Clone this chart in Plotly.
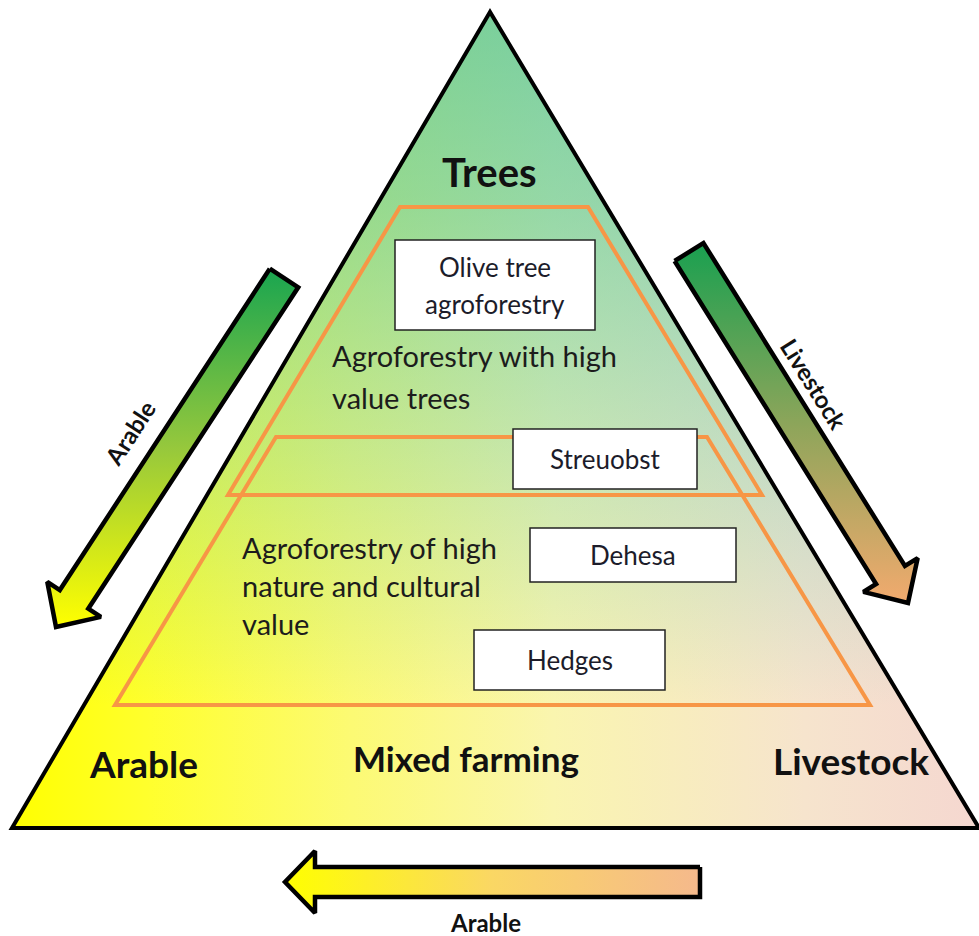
import math
import plotly.graph_objects as go

W, H = 979, 936
FONT = "Lato"

# ---- diagram geometry (pixel space, y grows downward) ----
triangle = [(490, 12), (12, 828), (979, 828)]
upper_trap = [(400, 207), (588, 207), (762, 495), (228, 495)]
lower_trap = [(276, 437), (707, 437), (870, 705), (115, 705)]

box_rects = [(395, 240, 595, 330), (513, 429, 697, 489), (530, 528, 736, 582), (474, 630, 665, 690)]
box_lines = [["Olive tree", "agroforestry"], ["Streuobst"], ["Dehesa"], ["Hedges"]]

corner_labels = ["Trees", "Arable", "Mixed farming", "Livestock"]
corner_pos = [(489, 172), (143, 763), (466, 758), (851, 760)]
corner_sizes = [40, 37, 35, 37]

group_texts = [["Agroforestry with high", "value trees"],
               ["Agroforestry of high", "nature and cultural", "value"]]
group_pos = [(330, 355), (240, 547)]
group_step = [42, 38]

arrow_labels = ["Arable", "Livestock", "Arable"]
arrow_label_pos = [(129, 433), (814, 383), (485, 922)]
arrow_label_angle = [-57, 58, 0]

arrow_start = [(284, 278), (689, 252), (700, 882)]
arrow_tip = [(56, 627), (908, 603), (285, 882)]
arrow_colors = [
    [[0, "rgb(25,165,80)"], [0.5, "rgb(150,200,60)"], [1, "rgb(255,255,0)"]],
    [[0, "rgb(25,160,80)"], [0.5, "rgb(140,165,90)"], [1, "rgb(242,170,110)"]],
    [[0, "rgb(255,255,0)"], [0.5, "rgb(250,215,100)"], [1, "rgb(245,185,140)"]],
]
arrow_dir = ["vertical", "vertical", "horizontal"]

tri_base_scale = [[0, "rgb(255,255,0)"], [0.14, "rgb(255,255,45)"], [0.35, "rgb(252,250,115)"],
                  [0.56, "rgb(250,245,175)"], [0.82, "rgb(246,228,205)"], [1, "rgb(245,215,208)"]]
tri_over_scale = [[0, "rgba(50,185,155,0.64)"], [0.23, "rgba(55,188,160,0.52)"],
                  [0.54, "rgba(60,190,185,0.27)"], [0.85, "rgba(60,190,185,0.0)"], [1, "rgba(60,190,185,0.0)"]]


def arrow_polygon(s, t, w=17, hw=32, hl=33):
    dx, dy = t[0] - s[0], t[1] - s[1]
    L = math.hypot(dx, dy)
    ux, uy = dx / L, dy / L
    nx, ny = -uy, ux
    bx, by = t[0] - hl * ux, t[1] - hl * uy
    pts = [
        (s[0] + w * nx, s[1] + w * ny),
        (bx + w * nx, by + w * ny),
        (bx + hw * nx, by + hw * ny),
        t,
        (bx - hw * nx, by - hw * ny),
        (bx - w * nx, by - w * ny),
        (s[0] - w * nx, s[1] - w * ny),
    ]
    pts.append(pts[0])
    return [p[0] for p in pts], [p[1] for p in pts]


fig = go.Figure()

tx = [p[0] for p in triangle] + [triangle[0][0]]
ty = [p[1] for p in triangle] + [triangle[0][1]]
fig.add_trace(go.Scatter(x=tx, y=ty, mode="lines", fill="toself", line=dict(width=0, color="rgba(0,0,0,0)"),
                         fillgradient=dict(type="horizontal", colorscale=tri_base_scale, start=12, stop=979),
                         hoverinfo="skip", showlegend=False))
fig.add_trace(go.Scatter(x=tx, y=ty, mode="lines", fill="toself", line=dict(width=0, color="rgba(0,0,0,0)"),
                         fillgradient=dict(type="vertical", colorscale=tri_over_scale, start=12, stop=828),
                         hoverinfo="skip", showlegend=False))

for i in range(3):
    ax, ay = arrow_polygon(arrow_start[i], arrow_tip[i],
                           w=17 if i < 2 else 15, hw=32 if i < 2 else 31, hl=33 if i < 2 else 30)
    if arrow_dir[i] == "vertical":
        st, sp = min(ay), max(ay)
    else:
        st, sp = min(ax), max(ax)
    fig.add_trace(go.Scatter(x=ax, y=ay, mode="lines", fill="toself",
                             line=dict(color="black", width=4.5),
                             fillgradient=dict(type=arrow_dir[i], colorscale=arrow_colors[i], start=st, stop=sp),
                             hoverinfo="skip", showlegend=False))


def path(pts):
    return "M " + " L ".join(f"{x} {y}" for x, y in pts) + " Z"


shapes = []
shapes.append(dict(type="path", path=path(triangle), line=dict(color="black", width=4),
                   xref="x", yref="y", layer="above"))
for trap in (upper_trap, lower_trap):
    shapes.append(dict(type="path", path=path(trap), line=dict(color="#f79646", width=4),
                       xref="x", yref="y", layer="above"))
for (x0, y0, x1, y1) in box_rects:
    shapes.append(dict(type="rect", x0=x0, y0=y0, x1=x1, y1=y1, fillcolor="white",
                       line=dict(color="#222222", width=1.5), xref="x", yref="y", layer="above"))

ann = []
for (x0, y0, x1, y1), lines in zip(box_rects, box_lines):
    cx, cy = (x0 + x1) / 2, (y0 + y1) / 2
    n = len(lines)
    for k, t in enumerate(lines):
        yy = cy + (k - (n - 1) / 2) * 37
        ann.append(dict(x=cx, y=yy, text=t, showarrow=False, xref="x", yref="y",
                        font=dict(family=FONT, size=26, color="#1c1c2a")))

for t, (x, y), s in zip(corner_labels, corner_pos, corner_sizes):
    ann.append(dict(x=x, y=y, text=f"<b>{t}</b>", showarrow=False, xref="x", yref="y",
                    font=dict(family=FONT, size=s, color="#111111")))

for lines, (x, y), step in zip(group_texts, group_pos, group_step):
    for k, t in enumerate(lines):
        ann.append(dict(x=x, y=y + k * step, text=t, showarrow=False, xref="x", yref="y",
                        xanchor="left", font=dict(family=FONT, size=29, color="#1c1c1c")))

for t, (x, y), a in zip(arrow_labels, arrow_label_pos, arrow_label_angle):
    ann.append(dict(x=x, y=y, text=f"<b>{t}</b>", showarrow=False, xref="x", yref="y",
                    textangle=a, font=dict(family=FONT, size=24, color="#111111")))

fig.update_layout(
    width=W, height=H, margin=dict(l=0, r=0, t=0, b=0),
    paper_bgcolor="white", plot_bgcolor="white",
    xaxis=dict(range=[0, W], visible=False, fixedrange=True),
    yaxis=dict(range=[H, 0], visible=False, fixedrange=True),
    shapes=shapes, annotations=ann, showlegend=False,
)

fig.write_html("out.html", config={"displayModeBar": False},
               post_script="document.body.style.margin='0px';document.body.style.overflow='hidden';")
